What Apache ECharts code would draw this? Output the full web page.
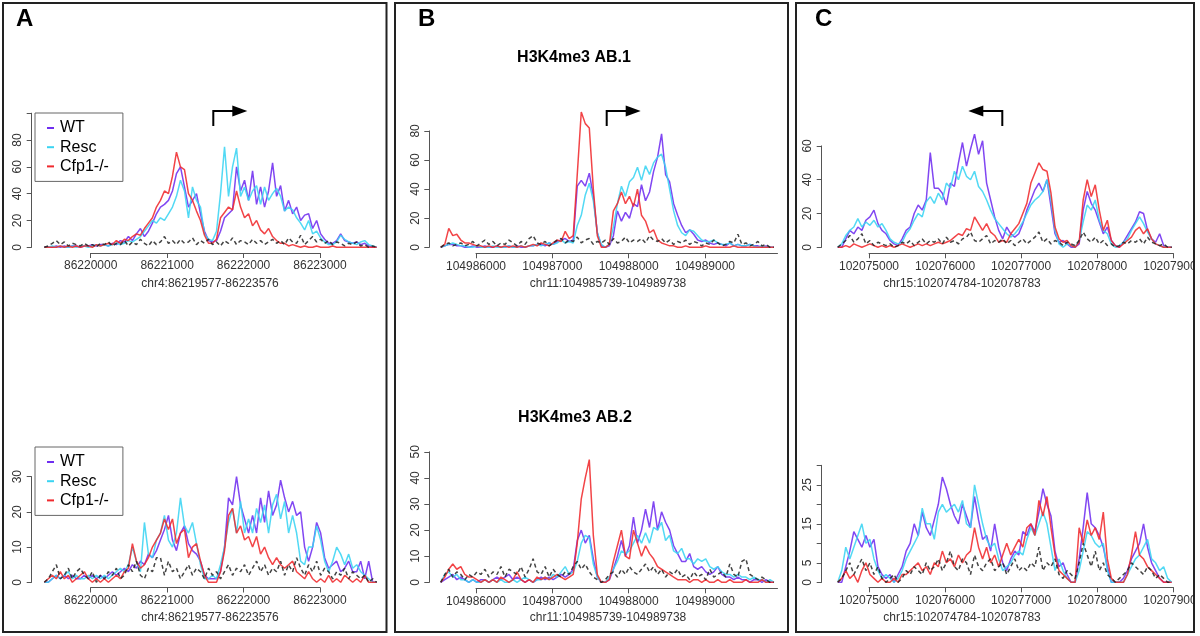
<!DOCTYPE html>
<html><head><meta charset="utf-8">
<script src="https://cdn.jsdelivr.net/npm/echarts@6/dist/echarts.min.js"></script>
<style>html,body{margin:0;padding:0;background:#fff}#c{width:1200px;height:636px}</style>
</head><body><div id="c"></div>
<script>
// ---------------- DATA ----------------
const seriesNames = ['WT', 'Resc', 'Cfp1-/-', 'Input'];
// Panel A (chr4)
const ticksA = [86220000, 86221000, 86222000, 86223000];
const rangeA = [86219393, 86223742];
const titleA = 'chr4:86219577-86223576';
const wtA1 = [0,0,0,1,0,1,0,1,1,0,1,1,2,1,2, 2,1,3,2,5,4,8,5,10,14, 8,12,18,25,30,32,35,42,55,60, 45,30,35,40,25,12,5,4,5,12, 22,25,28,60,42,50,35,57,32,45, 30,42,63,38,46,27,35,25,30,20, 24,25,14,20,10,6,3,3,5,10, 5,4,3,4,2,3,1,0,0];
const rescA1 = [0,0,1,0,1,0,0,1,0,1,1,0,1,2,1, 2,1,2,3,2,3,5,4,6,8, 12,16,20,18,22,20,25,30,38,50, 42,22,45,35,30,10,6,5,12,40, 75,38,60,74,38,45,35,42,46,32, 45,35,40,44,38,27,30,28,22,18, 13,20,10,12,7,4,2,2,4,9, 6,4,3,2,4,5,2,1,0];
const cfpA1 = [0,0,0,0,1,0,1,0,1,0,1,1,0,2,1, 2,3,2,5,3,6,5,8,10,9, 14,18,22,30,35,42,40,53,71,60, 58,40,35,27,20,9,3,3,6,22, 26,30,28,42,30,22,25,16,20,13, 10,14,8,5,3,3,1, 2,1,0,1,0,0,1,0,0,0,1,0,0,0,0,0,0,0,0,0,0,0];
const inputA1 = [0,1,3,5,2,4,1,3,2,1,3,1,2,0,3,2,4,1,3,2,5,1,4,2,6,3,1,5,2,4,8,3,5,2,6,3,4,7,2,5,3,6,2,4,1,5,3,7,2,5,4,2,6,3,5,2,4,6,3,5,2,7,4,3,9,2,5,8,4,6,3,5,2,4,3,1,3,2,4,1,2,0,1,0];
const wtA2 = [0,0,1,2,1,2,1,2,1,1,2,1,2,1,2, 1,2,3,2,3,4,3,5,4,6, 5,8,7,9,12,15,19,12,9,14, 16,11,9,8,6,2,1,1,1,3, 10,24,22,30,22,18,14,19,14,24, 17,26,19,22,29,24,20,23,19,20, 10,6,10,17,14,7,4,5,6,3, 4,6,3,3,6,1,6,0,0];
const rescA2 = [0,0,1,2,1,2,3,1,2,1,1,2,1,2,1, 2,1,2,3,4,3,5,10,6,3, 17,8,7,12,14,19,12,10,14,24, 16,14,17,11,5,1,1,2,1,5, 10,17,21,14,23,14,18,14,21,17, 22,14,22,25,18,23,14,19,14,6, 5,10,10,16,12,6,3,6,10,8, 5,8,4,5,3,2,1,0,0];
const cfpA2 = [0,1,2,1,3,1,2,0,1,2,3,1,0,1,0, 1,0,1,2,1,3,4,11,6,4, 5,7,10,12,14,18,15,18,11,14, 15,7,10,11,6,2,0,0,0,3, 9,19,21,14,16,12,13,10,13,8, 10,7,5,7,5,4,5,6,3,2, 1,3,1,0, 1,0,2,0,1,0,2,1,0,1,0,2,0,0,0];
const inputA2 = [0,1,3,5,1,2,4,1,3,4,2,1,3,0,2,1,3,2,4,1,2,5,3,6,2,1,4,3,7,7,2,6,3,4,1,3,5,2,4,3,1,4,2,3,1,3,5,2,4,3,5,2,4,6,3,5,2,4,3,6,2,5,3,7,4,2,5,3,6,2,4,3,1,3,2,4,1,3,2,1,2,0,1,0];
// Panel B (chr11)
const ticksB = [104986000, 104987000, 104988000, 104989000];
const rangeB = [104985538, 104989904];
const titleB = 'chr11:104985739-104989738';
const wtB1 = [0,1,2,2,1,1,0, 0,1,0,0,1,0,0,1,0,0,1,0,1,0,0,1,1,2, 2,1,3,2,4,5,6,4,5, 42,46,42,51,35,10,1,0,1,8, 25,18,24,20,30,28,43,32,38,52, 62,78,50,45,30,22,15,10,12,9, 5,4,5,3,2,3,2,1,3,1, 2,1,1,2,1,1,0,1,0,0];
const rescB1 = [0,1,2,3,2,1, 1,0,0,1,0,0,0,1,0,0,0,1,0,0,1,0,1,1,2, 1,2,3,2,3,5,3,4,3, 15,22,36,44,32,10,2,0,2,14, 30,42,35,45,48,55,46,56,50,58, 62,64,55,40,25,15,10,8,12,11, 8,5,4,4,5,3,2,2,3, 1,2,1,1,2,1,0,1,0,0,0];
const cfpB1 = [0,2,13,8,9,5,3,3,2,1,1,0,1,0,1,0,1,0,1,0,1,0,1,2,1,3,2,1,3,5,4,11,6,8, 50,93,85,82,40,8,0,0,2,25, 30,38,30,35,28,40,22,18,10,12, 5,3,2,1,1, 0,0,1,0,0,0,0,1,0,0,0,0,0,0,1,0,0,0,0,0,0,0,0,0,0];
const inputB1 = [0,2,3,1,2,3,1,2,4,1,3,5,2,4,1,3,2,5,3,1,4,2,6,8,3,2,4,1,3,5,6,3,5,4,7,3,5,6,2,4,3,5,2,6,3,4,7,3,5,4,6,3,8,5,4,6,3,5,2,4,3,5,2,4,3,1,3,2,5,3,1,2,4,3,9,2,3,1,2,4,1,2,0,0];
const wtB2 = [0,1,2,3,1, 2,1,0,1,0,1,1,0,1,2,1,2,3,1,2,1,0,1,0,1, 2,1,2,1,2,3,2,3,5, 16,20,15,18,9,2,0,0,1,5, 10,16,10,14,25,15,20,28,21,31, 20,27,23,20,14,11,8,8,11,6, 5,6,4,3,4,6,3,2,2, 1,2,1,1,0,1,1,0,1,0,0];
const rescB2 = [0,3,4,2,3, 1,1,0,1,0,0,1,0,1,0,1,0,0,1,0,1,2,1,0,1, 1,2,1,3,2,4,6,3,4, 8,15,18,17,7,2,0,0,2,5, 8,12,11,12,15,18,15,19,15,21, 20,23,16,18,12,11,13,9,9,7, 9,8,9,6,5,6,4,3,3, 2,3,2,2,1,2,1,1,0,1,0];
const cfpB2 = [0,2,5,7,5,6,3,2,2,1,0,1,0,1,0,2,1,0,1,4,1,0,1,0,2,1,2,1,2,3,2,1,2,3, 15,32,40,47,18,3,0,0,1,8, 14,20,10,9,20,15,10,14,11,9, 6,5,4,3,2,1, 1,1,0,1,1,0,1,0,0,1,0,0,1,0,0,0,1,0,0,0,1,0,0,0];
const inputB2 = [0,3,5,2,4,3,1,3,2,4,3,5,2,4,3,6,2,5,4,3,6,2,5,9,4,3,6,2,5,3,2,4,3,6,8,5,7,4,2,1,0,1,3,4,2,5,3,6,4,3,5,7,4,6,3,5,2,4,3,5,2,3,1,4,2,3,1,5,2,3,4,2,7,3,2,8,9,3,2,1,2,1,0,0];
// Panel C (chr15)
const ticksC = [102075000, 102076000, 102077000, 102078000, 102079000];
const rangeC = [102074589, 102078979];
const titleC = 'chr15:102074784-102078783';
const wtC1 = [0,0,5,10,8,12,10,16,18,22, 14,10,8,4,2,1,5,10,12,20, 25,22,28,56,35,35,32,25,38,36, 50,62,48,58,67,55,63,38,28,18, 10,5,12,8,6,8,14,22,28,34, 38,33,40,24,8,3,4,2,0,0, 2,22,33,26,22,15,8,12,4,1, 0,3,7,11,15,21,20,10,5,3, 8,1,0,0];
const rescC1 = [0,2,7,10,12,17,12,15,13,16, 12,14,10,5,3,2,3,8,11,16, 20,18,27,30,26,32,28,38,35,45, 40,48,42,40,45,36,33,28,22,17, 14,11,8,6,8,11,15,20,25,28, 30,33,40,28,10,2,0,2,1,0, 4,15,25,22,28,16,10,8,2,0, 1,3,5,10,14,18,14,9,5,2, 1,0,0,0];
const cfpC1 = [0,0,1,0,2,1,0,1,2,1, 0,1,0,1,0,1,2,1,0,1, 2,1,2,1,2,3,2,3,4,6, 8,7,11,10,18,14,10,14,9,7, 3,4,3,8,11,14,20,26,38,44, 50,46,45,32,12,5,3,4,1,0, 3,28,40,30,37,22,10,16,4,1, 0,2,4,6,10,12,8,11,5,2, 1,0,0,0];
const inputC1 = [0,2,4,7,3,5,8,2,4,1,3,2,1,2,0,1,3,2,4,1,3,5,2,4,3,5,2,6,3,4,2,5,6,9,4,3,5,7,2,4,3,5,2,4,1,3,5,2,4,6,9,3,5,2,4,3,1,3,2,1,4,9,5,3,6,2,4,1,2,0,1,3,2,4,3,5,2,6,3,2,1,2,0,0];
const wtC2 = [0,0,4,8,13,11,9,12,9,11, 4,2,1,2,0,2,4,8,10,15, 12,18,14,12,16,20,27,24,20,17, 15,20,17,14,22,16,11,12,8,15, 9,5,3,6,8,7,13,12,15,13, 18,24,20,17,8,4,5,2,0,0, 6,14,23,15,14,12,9,4,0,0, 0,1,3,6,8,10,15,9,5,3, 1,0,0,0];
const rescC2 = [0,3,9,6,9,12,15,10,11,6, 3,1,2,1,0,1,3,6,8,10, 12,19,15,15,11,18,20,18,19,20, 18,21,15,14,25,20,15,11,9,10, 6,3,4,5,7,8,7,11,14,12, 15,18,15,9,3,6,3,1,0,0, 3,8,13,12,10,9,10,3,0,0, 0,0,2,4,6,7,9,11,6,5, 3,4,1,0];
const cfpC2 = [0,1,3,1,2,0,3,5,2,1, 0,1,0,0,1,0,2,2,3,4, 5,3,4,2,5,4,8,5,6,4, 7,5,7,8,14,9,6,9,5,7, 4,7,10,7,9,11,9,14,15,12, 21,17,22,14,7,3,2,1,0,0, 14,10,16,12,14,11,18,6,1,0, 0,0,2,7,13,7,6,4,3,2, 1,0,0,0];
const inputC2 = [0,1,3,5,2,4,6,3,5,2,4,1,0,1,2,0,1,3,2,4,3,2,5,3,4,6,3,5,8,4,3,6,5,2,7,4,3,5,6,3,4,5,2,4,6,3,4,3,5,4,9,3,5,4,6,2,1,3,2,1,5,10,7,4,8,3,5,2,1,0,1,2,3,5,4,3,2,4,3,1,2,1,0,0];
// y-axis tick labels per panel
const yLabA1 = [0,20,40,60,80], yLabA2 = [0,10,20,30];
const yLabB1 = [0,20,40,60,80], yLabB2 = [0,10,20,30,40,50];
const yLabC1 = [0,20,40,60], yLabC2 = [0,5,15,25];

// ---------------- LAYOUT ----------------
const FONT = '"Liberation Sans", Arial, Helvetica, sans-serif';
const colors = ['#6f2ef0', '#3ad4f2', '#f02a2e', '#222222'];
const panels = [
  {ticks:ticksA, range:rangeA, vals:[wtA1,rescA1,cfpA1,inputA1], yLab:yLabA1, yMax:100, yInt:20,
   yAxisPx:31.7, y0:247.3, ppu:1.341, xAxisPx:253, tickPx:[90.7,320], axisEndPx:320, boxRight:386, title:titleA, titleX:210, titleY:284},
  {ticks:ticksA, range:rangeA, vals:[wtA2,rescA2,cfpA2,inputA2], yLab:yLabA2, yMax:30, yInt:10,
   yAxisPx:31.7, y0:582.3, ppu:3.52, xAxisPx:587.5, tickPx:[90.7,320], axisEndPx:320, boxRight:386, title:titleA, titleX:210, titleY:617.5},
  {ticks:ticksB, range:rangeB, vals:[wtB1,rescB1,cfpB1,inputB1], yLab:yLabB1, yMax:80, yInt:20,
   yAxisPx:429.3, y0:247.3, ppu:1.455, xAxisPx:253.3, tickPx:[476,705], axisEndPx:777.5, boxRight:788, title:titleB, titleX:608, titleY:284},
  {ticks:ticksB, range:rangeB, vals:[wtB2,rescB2,cfpB2,inputB2], yLab:yLabB2, yMax:50, yInt:10,
   yAxisPx:429.3, y0:582.3, ppu:2.61, xAxisPx:588.3, tickPx:[476,705], axisEndPx:777.5, boxRight:788, title:titleB, titleX:608, titleY:617.5},
  {ticks:ticksC, range:rangeC, vals:[wtC1,rescC1,cfpC1,inputC1], yLab:yLabC1, yMax:60, yInt:20,
   yAxisPx:821.7, y0:247.3, ppu:1.69, xAxisPx:253.3, tickPx:[869,1173.3], axisEndPx:1173.3, boxRight:1193, title:titleC, titleX:962, titleY:284},
  {ticks:ticksC, range:rangeC, vals:[wtC2,rescC2,cfpC2,inputC2], yLab:yLabC2, yMax:30, yInt:5,
   yAxisPx:821.7, y0:582.3, ppu:3.9, xAxisPx:587.3, tickPx:[869,1173.3], axisEndPx:1173.3, boxRight:1193, title:titleC, titleX:962, titleY:617.5}
];

const grid = [], xAxis = [], yAxis = [], series = [], graphic = [];
panels.forEach(p => {
  const t0 = p.ticks[0], tN = p.ticks[p.ticks.length - 1];
  const scale = (p.tickPx[1] - p.tickPx[0]) / (tN - t0);
  // data grid
  const gi = grid.length;
  const yTopVal = p.yMax * 1.45;
  const gTop = p.y0 - yTopVal * p.ppu;
  grid.push({left: p.yAxisPx, top: gTop, width: p.boxRight - p.yAxisPx, height: p.xAxisPx - gTop, containLabel:false, outerBoundsMode:'none'});
  xAxis.push({gridIndex: gi, type:'value', show:false,
    min: t0 - (p.tickPx[0] - p.yAxisPx) / scale, max: t0 + (p.boxRight - p.tickPx[0]) / scale});
  yAxis.push({gridIndex: gi, type:'value', show:false, min: -(p.xAxisPx - p.y0) / p.ppu, max: yTopVal});
  // x-axis grid
  const xi = grid.length;
  grid.push({left: p.tickPx[0], top: p.xAxisPx - 10, width: p.axisEndPx - p.tickPx[0], height: 10, containLabel:false, outerBoundsMode:'none'});
  xAxis.push({gridIndex: xi, type:'value', position:'bottom', min: t0, max: t0 + (p.axisEndPx - p.tickPx[0]) / scale,
    axisLine:{show:true, onZero:false, lineStyle:{color:'#555', width:1}},
    axisTick:{show:true, length:5, customValues:p.ticks, lineStyle:{color:'#555', width:1}},
    axisLabel:{show:true, customValues:p.ticks, formatter: v => String(v), fontSize:12, color:'#333', margin:7, fontFamily:FONT},
    splitLine:{show:false}});
  yAxis.push({gridIndex: xi, type:'value', show:false});
  // y-axis grid
  const yi = grid.length;
  grid.push({left: p.yAxisPx, top: p.y0 - p.yMax * p.ppu, width: 1, height: p.yMax * p.ppu, containLabel:false, outerBoundsMode:'none'});
  xAxis.push({gridIndex: yi, type:'value', show:false});
  yAxis.push({gridIndex: yi, type:'value', position:'left', min:0, max:p.yMax, interval:p.yInt,
    axisLine:{show:true, onZero:false, lineStyle:{color:'#555', width:1}},
    axisTick:{show:true, length:5, lineStyle:{color:'#555', width:1}},
    axisLabel:{show:true, rotate:90, fontSize:12, color:'#333', margin:8, fontFamily:FONT,
      formatter: v => (p.yLab.indexOf(v) >= 0 ? String(v) : '')},
    splitLine:{show:false}});
  // series
  p.vals.forEach((vals, k) => {
    const step = (p.range[1] - p.range[0]) / (vals.length - 1);
    series.push({
      type:'line', name: seriesNames[k], xAxisIndex: gi, yAxisIndex: gi,
      data: vals.map((v, i) => [p.range[0] + i * step, v]),
      symbol:'none', showSymbol:false, silent:true, z: 2 + k,
      itemStyle:{color: colors[k]},
      lineStyle:{color: colors[k], width: 1.5, opacity: k === 3 ? 0.85 : 0.88, type: k === 3 ? [4, 3] : 'solid'}
    });
  });
  graphic.push({type:'text', x:p.titleX, y:p.titleY, z:50,
    style:{text:p.title, font:'12px ' + FONT, fill:'#333', textAlign:'center', textVerticalAlign:'middle'}});
});

// panel boxes, letters, titles, arrows
const boxes = [[3, 386.5], [395, 788], [796, 1194]];
graphic.push({type:'rect', z:99, shape:{x:1193, y:0, width:7, height:636}, style:{fill:'#fff'}});
boxes.forEach(b => graphic.push({type:'rect', z:100, shape:{x:b[0], y:3, width:b[1]-b[0], height:629}, style:{fill:'none', stroke:'#222', lineWidth:2}}));
[['A',16],['B',418],['C',815]].forEach(l => graphic.push({type:'text', x:l[1], y:19, z:50,
  style:{text:l[0], font:'bold 24px ' + FONT, fill:'#000', textAlign:'left', textVerticalAlign:'middle'}}));
graphic.push({type:'text', x:574, y:58, z:50, style:{text:'H3K4me3 AB.1', font:'bold 16px ' + FONT, fill:'#000', textAlign:'center', textVerticalAlign:'middle'}});
graphic.push({type:'text', x:575, y:418, z:50, style:{text:'H3K4me3 AB.2', font:'bold 16px ' + FONT, fill:'#000', textAlign:'center', textVerticalAlign:'middle'}});
function arrow(x0, dir) {
  const xe = x0 + dir * 20, xt = x0 + dir * 34;
  graphic.push({type:'polyline', z:50, shape:{points:[[x0,126],[x0,111],[xe,111]]}, style:{stroke:'#000', lineWidth:2, fill:null}});
  graphic.push({type:'polygon', z:50, shape:{points:[[xe-dir*1,105.5],[xt,111],[xe-dir*1,116.5]]}, style:{fill:'#000'}});
}
arrow(213.3, 1); arrow(606.7, 1); arrow(1002.3, -1);

const legendBase = {
  data:['WT','Resc','Cfp1-/-'], orient:'vertical', left:35, selectedMode:false,
  itemWidth:7, itemHeight:2, icon:'rect', itemGap:3.2,
  textStyle:{fontSize:16, color:'#000', fontFamily:FONT, padding:[0,0,0,1]},
  padding:[7,14,7,12], borderColor:'#666', borderWidth:1, backgroundColor:'#fff', z:20
};
const legend = [Object.assign({}, legendBase, {top:113}), Object.assign({}, legendBase, {top:447})];

const chart = echarts.init(document.getElementById('c'), null, {renderer:'canvas'});
chart.setOption({animation:false, backgroundColor:'#fff', grid, xAxis, yAxis, series, legend, graphic});
</script></body></html>
